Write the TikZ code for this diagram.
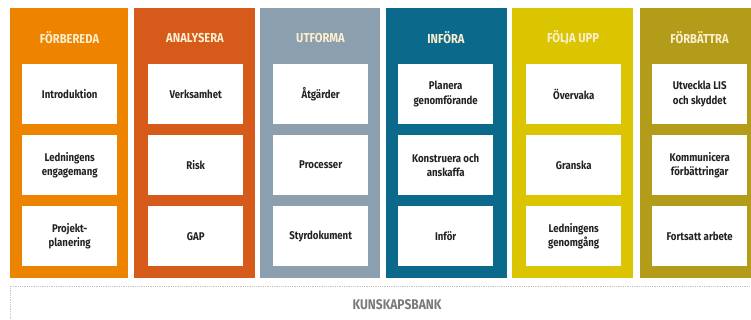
\documentclass[tikz,border=0pt]{standalone}
\usepackage{fontspec}
\setmainfont{Fira Sans}[FakeStretch=0.86]
\definecolor{cA}{HTML}{EE8300}
\definecolor{cB}{HTML}{D65B1B}
\definecolor{cC}{HTML}{8C9FAE}
\definecolor{cD}{HTML}{0B6A8B}
\definecolor{cE}{HTML}{DBC400}
\definecolor{cF}{HTML}{B29C19}
\definecolor{titletxt}{HTML}{FCEFCF}
\definecolor{boxtxt}{HTML}{222222}
\definecolor{banktxt}{HTML}{7A7A7A}
\definecolor{dotgray}{HTML}{C4C4C4}
\begin{document}
\begin{tikzpicture}[x=1pt,y=-1pt,
  colbox/.style={draw=none,inner sep=0pt,anchor=north west,minimum height=270pt},
  coltitle/.style={text=titletxt,font=\fontsize{13}{15}\selectfont\bfseries},
  itembox/.style={fill=white,draw=none,inner sep=0pt,anchor=north west,minimum width=95pt,minimum height=60pt,align=center,text=boxtxt,font=\fontsize{11.2}{14.5}\selectfont\bfseries},
  bank/.style={draw=dotgray,densely dotted,line width=0.8pt},
  banklabel/.style={text=banktxt,font=\fontsize{14}{16}\selectfont\bfseries}]
\useasboundingbox (0,0) rectangle (751,320);
\begin{scope}
\clip (0,0) rectangle (751,320);
% columns
\node[colbox,fill=cA,minimum width=118pt] (c1) at (10,8) {};
\node[colbox,fill=cB,minimum width=121pt] (c2) at (134,8) {};
\node[colbox,fill=cC,minimum width=120pt] (c3) at (260,8) {};
\node[colbox,fill=cD,minimum width=121pt] (c4) at (386,8) {};
\node[colbox,fill=cE,minimum width=121pt] (c5) at (512,8) {};
\node[colbox,fill=cF,minimum width=115pt] (c6) at (640,8) {};
% knowledge bank
\draw[bank] (10,330) -- (10,286) -- (760,286);
\node[banklabel] (bank) at (397,305) {KUNSKAPSBANK};
\end{scope}
% titles
\node[coltitle] (t1) at (69.5,38) {FÖRBEREDA};
\node[coltitle] (t2) at (195,38) {ANALYSERA};
\node[coltitle] (t3) at (320.5,38) {UTFORMA};
\node[coltitle] (t4) at (446,38) {INFÖRA};
\node[coltitle] (t5) at (573,38) {FÖLJA UPP};
\node[coltitle] (t6) at (699.5,38) {FÖRBÄTTRA};
% items column 1
\node[itembox] (b11) at (22,64) {Introduktion};
\node[itembox] (b12) at (22,135) {Ledningens\\engagemang};
\node[itembox] (b13) at (22,206) {Projekt-\\planering};
% column 2
\node[itembox] (b21) at (148,64) {Verksamhet};
\node[itembox] (b22) at (148,135) {Risk};
\node[itembox] (b23) at (148,206) {GAP};
% column 3
\node[itembox] (b31) at (273,64) {Åtgärder};
\node[itembox] (b32) at (273,135) {Processer};
\node[itembox] (b33) at (273,206) {Styrdokument};
% column 4
\node[itembox] (b41) at (398,64) {Planera\\genomförande};
\node[itembox] (b42) at (398,135) {Konstruera och\\anskaffa};
\node[itembox] (b43) at (398,206) {Inför};
% column 5
\node[itembox] (b51) at (526,64) {Övervaka};
\node[itembox] (b52) at (526,135) {Granska};
\node[itembox] (b53) at (526,206) {Ledningens\\genomgång};
% column 6
\node[itembox] (b61) at (652,64) {Utveckla LIS\\och skyddet};
\node[itembox] (b62) at (652,135) {Kommunicera\\förbättringar};
\node[itembox] (b63) at (652,206) {Fortsatt arbete};
\end{tikzpicture}
\end{document}
